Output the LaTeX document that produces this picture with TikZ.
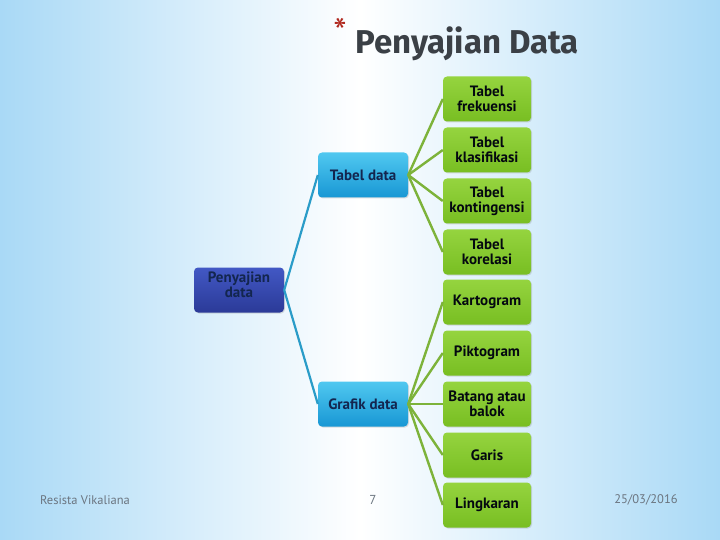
\documentclass[tikz,border=0pt]{standalone}
\usepackage{fontspec}
\setmainfont{PT Sans}
\newfontfamily\titlefont{Fira Sans}
\usetikzlibrary{shadows}
\definecolor{pdBg}{HTML}{A9D9F6}
\definecolor{pdGreenTop}{HTML}{95D43F}
\definecolor{pdGreenBot}{HTML}{78BE22}
\definecolor{pdGreenLine}{HTML}{7DB33A}
\definecolor{pdBlueTop}{HTML}{50C8F0}
\definecolor{pdBlueBot}{HTML}{1897D4}
\definecolor{pdBlueLine}{HTML}{2A9CC8}
\definecolor{pdNavyTop}{HTML}{4258C4}
\definecolor{pdNavyBot}{HTML}{2B3A98}
\definecolor{pdInk}{HTML}{13264F}
\definecolor{pdGray}{HTML}{6B7580}
\definecolor{pdTitle}{HTML}{3B4046}
\definecolor{pdStar}{HTML}{B0281E}
\tikzset{
  pd box/.style={rounded corners=4pt, minimum width=88pt, minimum height=45pt, inner sep=1pt,
    align=center, font=\fontsize{15}{15}\selectfont\bfseries, text=pdInk,
    drop shadow={shadow xshift=1pt, shadow yshift=-1pt, opacity=0.25}},
  pd leaf/.style={pd box, top color=pdGreenTop, bottom color=pdGreenBot, text=black!80!pdInk},
  pd branch/.style={pd box, minimum width=90pt, top color=pdBlueTop, bottom color=pdBlueBot},
  pd root/.style={pd box, minimum width=90pt, top color=pdNavyTop, bottom color=pdNavyBot},
  pd green link/.style={draw=pdGreenLine, line width=2.4pt},
  pd blue link/.style={draw=pdBlueLine, line width=2.2pt},
  pd footer/.style={font=\fontsize{12.5}{13}\selectfont, text=pdGray},
}

\begin{document}
\begin{tikzpicture}[x=1pt, y=-1pt]
  % ----- background -----
  \useasboundingbox (0,0) rectangle (720,540);
  \shade[left color=pdBg, right color=pdBg, middle color=white] (0,0) rectangle (720,540);
  % ----- title -----
  \node[text=pdStar, font=\fontsize{38}{38}\selectfont] (star) at (340,32) {*};
  \node[text=pdTitle, font=\titlefont\fontsize{33}{33}\selectfont\bfseries, anchor=west] (title) at (352,44) {Penyajian Data};
  % ----- root and branches -----
  \node[pd root] (root) at (239,290) {Penyajian\\data\\[-8pt]\strut};
  \node[pd branch] (tabel) at (363,175) {Tabel data};
  \node[pd branch] (grafik) at (363,404) {Grafik data};
  % ----- leaves of Tabel data -----
  \node[pd leaf] (frekuensi) at (487,99) {Tabel\\frekuensi};
  \node[pd leaf] (klasifikasi) at (487,150) {Tabel\\klasifikasi};
  \node[pd leaf] (kontingensi) at (487,201) {Tabel\\kontingensi};
  \node[pd leaf] (korelasi) at (487,252) {Tabel\\korelasi};
  % ----- leaves of Grafik data -----
  \node[pd leaf] (kartogram) at (487,302) {Kartogram};
  \node[pd leaf] (piktogram) at (487,353) {Piktogram};
  \node[pd leaf] (batang) at (487,404) {Batang atau\\balok};
  \node[pd leaf] (garis) at (487,455) {Garis};
  \node[pd leaf] (lingkaran) at (487,505) {Lingkaran};
  % ----- connectors -----
  \draw[pd blue link] (root.east) -- (tabel.west);
  \draw[pd blue link] (root.east) -- (grafik.west);
  \foreach \leaf in {frekuensi,klasifikasi,kontingensi,korelasi}
    \draw[pd green link] (tabel.east) -- (\leaf.west);
  \foreach \leaf in {kartogram,piktogram,batang,garis,lingkaran}
    \draw[pd green link] (grafik.east) -- (\leaf.west);
  % ----- footer -----
  \node[pd footer] (author) at (85,500) {Resista Vikaliana};
  \node[pd footer, font=\fontsize{13}{13}\selectfont] (page) at (373,500) {7};
  \node[pd footer] (date) at (646,500) {25/03/2016};
\end{tikzpicture}
\end{document}
